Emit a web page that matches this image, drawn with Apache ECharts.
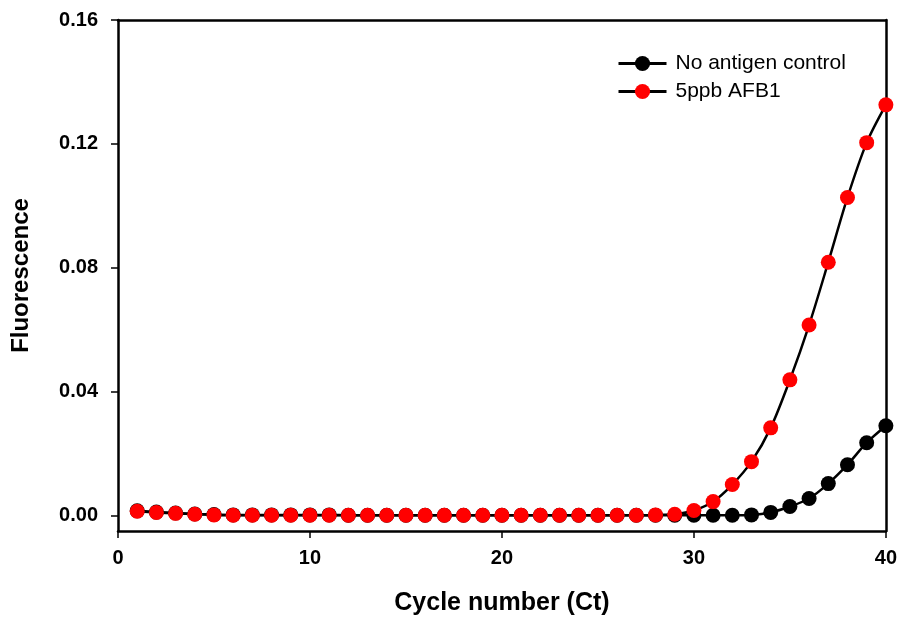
<!DOCTYPE html>
<html>
<head>
<meta charset="utf-8">
<script src="https://cdn.jsdelivr.net/npm/echarts@6/dist/echarts.min.js"></script>
<style>html,body{margin:0;padding:0;background:#fff}#c{width:900px;height:621px}</style>
</head>
<body>
<div id="c"></div>
<script>
var cycles = [1,2,3,4,5,6,7,8,9,10,11,12,13,14,15,16,17,18,19,20,21,22,23,24,25,26,27,28,29,30,31,32,33,34,35,36,37,38,39,40];
var noAntigen = [0.0015,0.0011,0.0008,0.0005,0.0003,0.0002,0.0002,0.0002,0.0002,0.0002,0.0002,0.0001,0.0001,0.0001,0.0001,0.0001,0.0001,0.0001,0.0001,0.0001,0.0001,0.0001,0.0001,0.0001,0.0001,0.0001,0.0001,0.0001,0.0001,0.0001,0.0001,0.0001,0.0002,0.0010,0.0029,0.0055,0.0103,0.0164,0.0235,0.0290];
var afb1 = [0.0014,0.0010,0.0007,0.0004,0.0002,0.0001,0.0001,0.0001,0.0001,0.0001,0.0001,0.0001,0.0001,0.0001,0.0001,0.0001,0.0001,0.0001,0.0001,0.0001,0.0001,0.0001,0.0001,0.0001,0.0001,0.0001,0.0001,0.0002,0.0004,0.0016,0.0045,0.0100,0.0174,0.0283,0.0438,0.0615,0.0818,0.1027,0.1204,0.1326];
var yTicks = [0, 0.04, 0.08, 0.12, 0.16];
var seriesNames = ['No antigen control', '5ppb AFB1'];

function pairs(xs, ys){ return xs.map(function(x,i){ return [x, ys[i]]; }); }

var chart = echarts.init(document.getElementById('c'));
var font = 'Liberation Sans, Arial, sans-serif';
var frameAxis = {show: true, onZero: false, lineStyle: {color: '#000', width: 2.5}};
chart.setOption({
  animation: false,
  grid: {left: 118, right: 14, top: 20, bottom: 89},
  legend: {
    left: 612, top: 48, orient: 'vertical', itemGap: 7,
    itemWidth: 48, itemHeight: 19,
    lineStyle: {width: 3},
    textStyle: {fontFamily: font, fontSize: 21, color: '#000', padding: [0,0,0,4]},
    data: seriesNames
  },
  xAxis: [{
    type: 'value', min: 0, max: 40, interval: 10,
    name: 'Cycle number (Ct)', nameLocation: 'middle', nameGap: 60,
    nameTextStyle: {fontFamily: font, fontSize: 25, fontWeight: 'bold', color: '#000'},
    axisLine: frameAxis,
    axisTick: {length: 7, lineStyle: {color: '#000', width: 1.5}},
    axisLabel: {fontFamily: font, fontSize: 20, fontWeight: 'bold', color: '#000', margin: 17},
    splitLine: {show: false}
  }, {
    type: 'value', position: 'top', min: 0, max: 40, interval: 10,
    axisLine: frameAxis, axisTick: {show: false}, axisLabel: {show: false}, splitLine: {show: false}
  }],
  yAxis: [{
    type: 'value', min: -0.005, max: 0.16,
    name: 'Fluorescence', nameLocation: 'middle', nameGap: 85, nameRotate: 90,
    nameTextStyle: {fontFamily: font, fontSize: 24, fontWeight: 'bold', color: '#000'},
    axisLine: frameAxis,
    axisTick: {length: 7, lineStyle: {color: '#000', width: 1.5}, customValues: yTicks},
    axisLabel: {fontFamily: font, fontSize: 20, fontWeight: 'bold', color: '#000', margin: 20,
      customValues: yTicks, formatter: function(v){ return v.toFixed(2); }},
    splitLine: {show: false}
  }, {
    type: 'value', position: 'right', min: -0.005, max: 0.16,
    axisLine: frameAxis, axisTick: {show: false}, axisLabel: {show: false}, splitLine: {show: false}
  }],
  series: [
    {name: seriesNames[0], type: 'line', smooth: 0.3, data: pairs(cycles, noAntigen),
     symbol: 'circle', symbolSize: 15, lineStyle: {color: '#000', width: 2.5},
     itemStyle: {color: '#000'}},
    {name: seriesNames[1], type: 'line', smooth: 0.3, data: pairs(cycles, afb1),
     symbol: 'circle', symbolSize: 15, lineStyle: {color: '#000', width: 2.5},
     itemStyle: {color: '#ff0000'}}
  ]
});
</script>
</body>
</html>
